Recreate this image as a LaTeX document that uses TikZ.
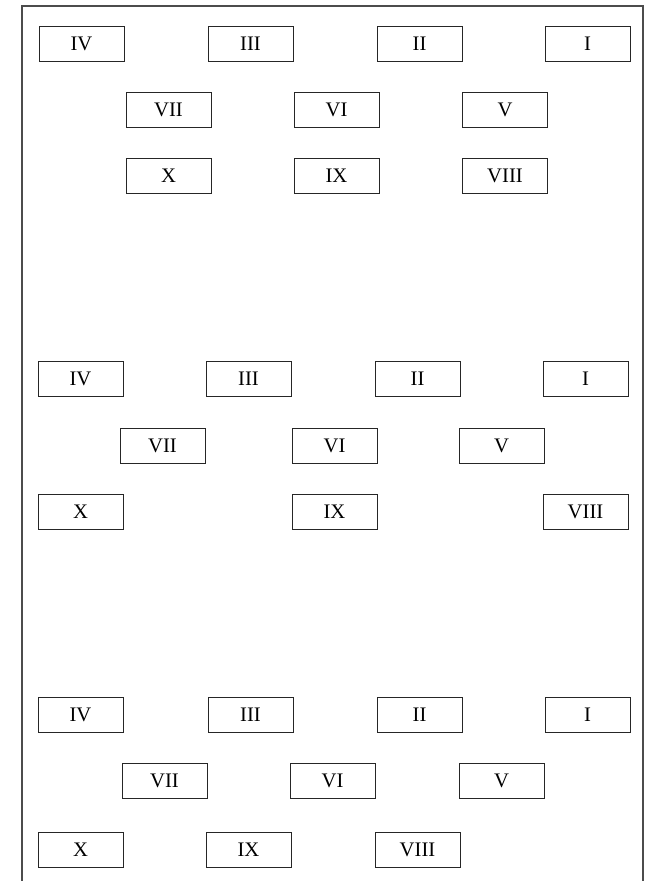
\documentclass[tikz,border=0pt]{standalone}
\usepackage{fontspec}
\setmainfont{Liberation Serif}
\usetikzlibrary{positioning}

\begin{document}
\begin{tikzpicture}[
  x=0.75pt,y=-0.75pt,
  numbox/.style={draw=black!85,line width=0.6pt,minimum width=63.75pt,
                 minimum height=26.25pt,inner sep=0pt,
                 font=\fontsize{15.5}{18}\selectfont},
  frame/.style={draw=black!70,line width=1pt},
]
\useasboundingbox (0,0) rectangle (649,881);

% === Outer frame (open at the bottom) ===
\draw[frame] (22,881) -- (22,6) -- (643,6) -- (643,881);

% === Arrangement 1 ===
\node[numbox] (a4) at (81.5,43.5) {IV};
\node[numbox] (a3) at (250.5,43.5) {III};
\node[numbox] (a2) at (419.5,43.5) {II};
\node[numbox] (a1) at (587.5,43.5) {I};

\node[numbox] (a7) at (168.5,109.5) {VII};
\node[numbox] (a6) at (336.5,109.5) {VI};
\node[numbox] (a5) at (505,109.5) {V};

\node[numbox] (a10) at (168.5,176) {X};
\node[numbox] (a9) at (336.5,176) {IX};
\node[numbox] (a8) at (505,176) {VIII};

% === Arrangement 2 ===
\node[numbox] (b4) at (80.5,379) {IV};
\node[numbox] (b3) at (248.5,379) {III};
\node[numbox] (b2) at (417.5,379) {II};
\node[numbox] (b1) at (585.5,379) {I};

\node[numbox] (b7) at (162.5,445.5) {VII};
\node[numbox] (b6) at (334.5,445.5) {VI};
\node[numbox] (b5) at (501.5,445.5) {V};

\node[numbox] (b10) at (80.5,512) {X};
\node[numbox] (b9) at (334.5,512) {IX};
\node[numbox] (b8) at (585.5,512) {VIII};

% === Arrangement 3 ===
\node[numbox] (c4) at (80.5,714.5) {IV};
\node[numbox] (c3) at (250.5,714.5) {III};
\node[numbox] (c2) at (419.5,714.5) {II};
\node[numbox] (c1) at (587.5,714.5) {I};

\node[numbox] (c7) at (164.5,780.5) {VII};
\node[numbox] (c6) at (332.5,780.5) {VI};
\node[numbox] (c5) at (501.5,780.5) {V};

\node[numbox] (c10) at (80.5,850) {X};
\node[numbox] (c9) at (248.5,850) {IX};
\node[numbox] (c8) at (417.5,850) {VIII};

\end{tikzpicture}
\end{document}
